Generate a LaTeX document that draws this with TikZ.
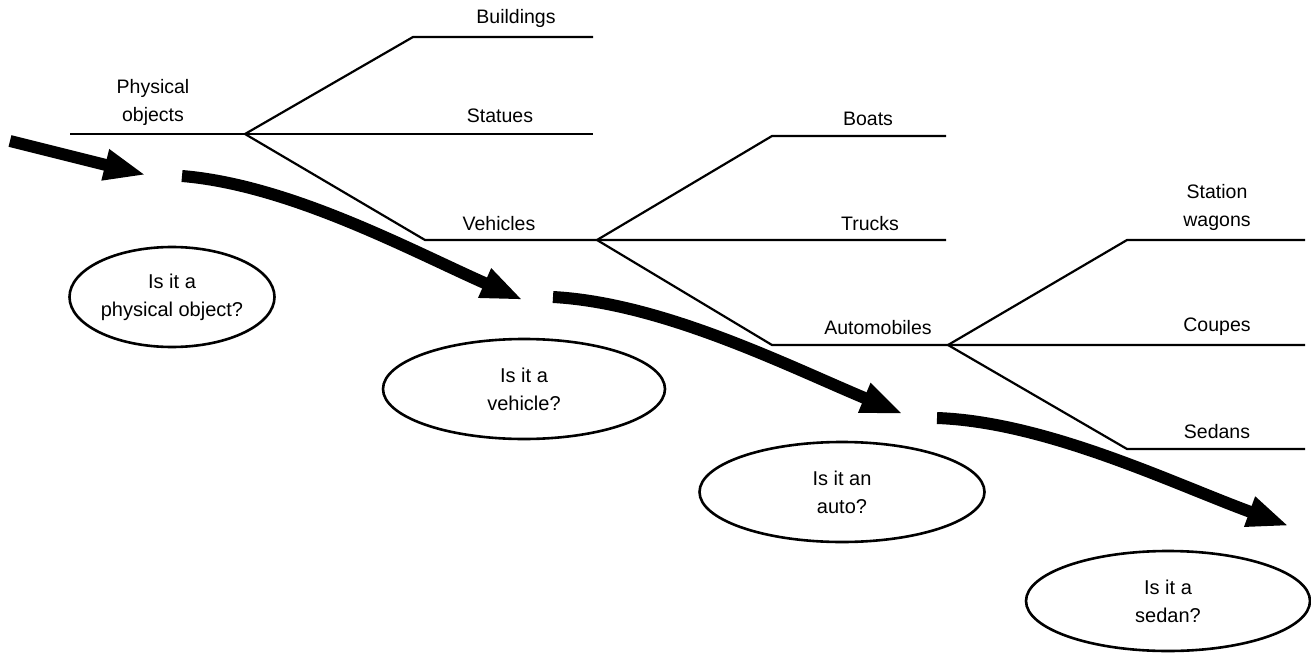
\documentclass[tikz,border=0pt]{standalone}
\usepackage{fontspec}
\setmainfont{Liberation Sans}
\usepackage{tikz}
\usetikzlibrary{arrows.meta,shapes.geometric}
\tikzset{
  ln/.style={line width=2.2pt,line join=round},
  fat/.style={line width=12pt,-{Triangle[length=42pt,width=29pt]}},
  qq/.style={draw,ellipse,line width=2.6pt,align=center,inner sep=0pt,minimum height=100pt,font=\fontsize{20}{28}\selectfont},
  lab/.style={align=center,inner sep=0pt,font=\fontsize{19.5}{28}\selectfont}
}
\begin{document}
\begin{tikzpicture}[x=1pt,y=-1pt]
\useasboundingbox (0,0) rectangle (1311,671);
\coordinate (po0) at (70,134);
\coordinate (po) at (245,134);
\coordinate (bu0) at (413,37);
\coordinate (bu1) at (593,37);
\coordinate (st1) at (593,134);
\coordinate (ve0) at (425,240);
\coordinate (ve) at (597,240);
\coordinate (ve1) at (946,240);
\coordinate (bo0) at (772,136);
\coordinate (bo1) at (946,136);
\coordinate (au0) at (772,345);
\coordinate (au) at (948,345);
\coordinate (au1) at (1305,345);
\coordinate (sw0) at (1127,240);
\coordinate (sw1) at (1305,240);
\coordinate (se0) at (1127,449);
\coordinate (se1) at (1305,449);
\draw[ln] (po0)--(st1);
\draw[ln] (bu1)--(bu0)--(po)--(ve0)--(ve1);
\draw[ln] (bo1)--(bo0)--(ve)--(au0)--(au1);
\draw[ln] (sw1)--(sw0)--(au)--(se0)--(se1);
\node[lab] (phys) at (153,102) {Physical\\objects};
\node[lab] (build) at (516,18) {Buildings};
\node[lab] (stat) at (500,116) {Statues};
\node[lab] (veh) at (499,224) {Vehicles};
\node[lab] (boat) at (868,119) {Boats};
\node[lab] (truck) at (870,224) {Trucks};
\node[lab] (auto) at (878,328) {Automobiles};
\node[lab] (wagon) at (1217,207) {Station\\wagons};
\node[lab] (coupe) at (1217,327) {Coupes};
\node[lab] (sedan) at (1217,432) {Sedans};
\node[qq,minimum width=205pt] (q1) at (172,297) {Is it a\\physical object?};
\node[qq,minimum width=282pt] (q2) at (524,389) {Is it a\\vehicle?};
\node[qq,minimum width=285pt] (q3) at (842,492) {Is it an\\auto?};
\node[qq,minimum width=284pt] (q4) at (1168,601) {Is it a\\sedan?};
\coordinate (a0) at (10,141);
\coordinate (a1) at (146,175);
\coordinate (b0) at (182,176);
\coordinate (b1) at (523,300);
\coordinate (c0) at (553,297);
\coordinate (c1) at (903,414);
\coordinate (d0) at (937,418);
\coordinate (d1) at (1289,526);
\draw[fat] (a0)--(a1);
\draw[fat] (b0) .. controls +(108,9) and +(-113,-50) .. (b1);
\draw[fat] (c0) .. controls +(110,6) and +(-115,-48) .. (c1);
\draw[fat] (d0) .. controls +(110,4) and +(-115,-42) .. (d1);
\end{tikzpicture}
\end{document}
